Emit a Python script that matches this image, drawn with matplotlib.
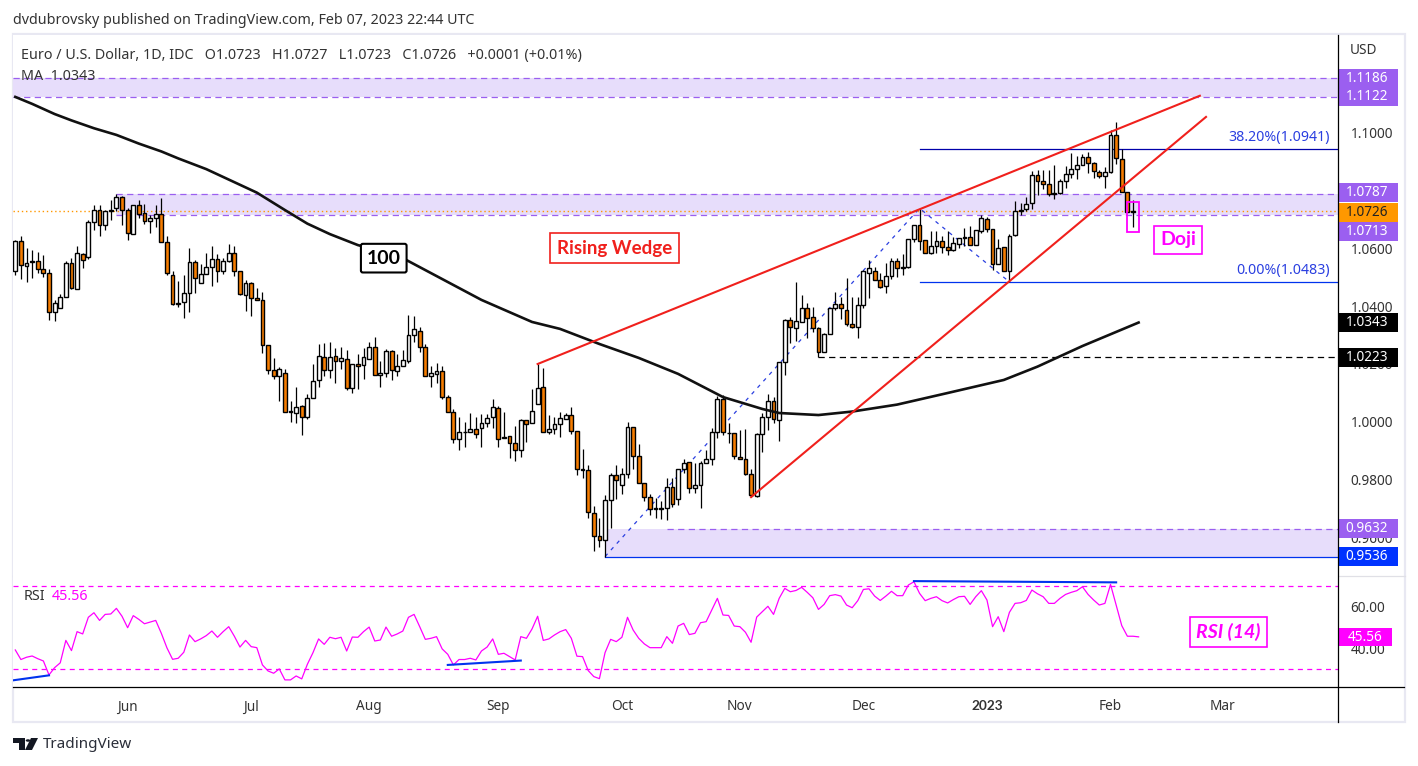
import numpy as np
import matplotlib
matplotlib.use("Agg")
import matplotlib.pyplot as plt
from matplotlib.lines import Line2D
from matplotlib.patches import Circle, Polygon, Rectangle

plt.rcParams['font.family'] = ['Noto Sans', 'DejaVu Sans']

W, H = 1418, 766

# daily candles
opens = [
    1.0520, 1.0623, 1.0537, 1.0551, 1.0554, 1.0527, 1.0513, 1.0378, 1.0392, 1.0430,
    1.0547, 1.0458, 1.0578, 1.0568, 1.0689, 1.0730, 1.0678, 1.0727, 1.0737, 1.0775,
    1.0730, 1.0647, 1.0747, 1.0720, 1.0692, 1.0702, 1.0716, 1.0620, 1.0506, 1.0406,
    1.0413, 1.0444, 1.0551, 1.0478, 1.0509, 1.0533, 1.0561, 1.0520, 1.0554, 1.0582,
    1.0520, 1.0437, 1.0478, 1.0427, 1.0420, 1.0265, 1.0178, 1.0158, 1.0168, 1.0034,
    1.0030, 1.0054, 1.0016, 1.0082, 1.0144, 1.0223, 1.0178, 1.0227, 1.0209, 1.0216,
    1.0116, 1.0199, 1.0195, 1.0216, 1.0258, 1.0161, 1.0168, 1.0244, 1.0175, 1.0192,
    1.0209, 1.0299, 1.0313, 1.0258, 1.0158, 1.0164, 1.0175, 1.0085, 1.0033, 0.9940,
    0.9965, 0.9965, 0.9975, 0.9978, 0.9996, 1.0016, 1.0047, 0.9947, 0.9951, 0.9927,
    0.9903, 1.0006, 0.9996, 1.0061, 1.0120, 0.9965, 0.9975, 0.9992, 1.0009, 1.0023,
    0.9968, 0.9837, 0.9834, 0.9685, 0.9606, 0.9592, 0.9730, 0.9816, 0.9782, 0.9820,
    0.9982, 0.9882, 0.9789, 0.9741, 0.9699, 0.9703, 0.9703, 0.9775, 0.9734, 0.9837,
    0.9861, 0.9772, 0.9782, 0.9858, 0.9871, 0.9965, 1.0078, 0.9961, 0.9961, 0.9878,
    0.9871, 0.9820, 0.9744, 0.9958, 1.0016, 1.0071, 1.0006, 1.0206, 1.0351, 1.0323,
    1.0344, 1.0392, 1.0361, 1.0323, 1.0240, 1.0302, 1.0392, 1.0406, 1.0385, 1.0337,
    1.0326, 1.0402, 1.0513, 1.0520, 1.0489, 1.0468, 1.0503, 1.0554, 1.0530, 1.0534,
    1.0630, 1.0678, 1.0627, 1.0582, 1.0606, 1.0623, 1.0603, 1.0592, 1.0613, 1.0634,
    1.0637, 1.0609, 1.0658, 1.0699, 1.0665, 1.0544, 1.0603, 1.0520, 1.0644, 1.0727,
    1.0733, 1.0754, 1.0851, 1.0830, 1.0820, 1.0785, 1.0789, 1.0830, 1.0854, 1.0871,
    1.0885, 1.0913, 1.0892, 1.0861, 1.0847, 1.0861, 1.0989, 1.0906, 1.0792, 1.0723,
]
highs = [
    1.0628, 1.0641, 1.0599, 1.0593, 1.0585, 1.0576, 1.0528, 1.0420, 1.0440, 1.0556,
    1.0565, 1.0607, 1.0582, 1.0696, 1.0748, 1.0747, 1.0731, 1.0766, 1.0785, 1.0779,
    1.0737, 1.0747, 1.0766, 1.0752, 1.0713, 1.0748, 1.0772, 1.0641, 1.0520, 1.0486,
    1.0506, 1.0599, 1.0559, 1.0545, 1.0582, 1.0607, 1.0579, 1.0565, 1.0613, 1.0606,
    1.0520, 1.0489, 1.0483, 1.0461, 1.0447, 1.0265, 1.0220, 1.0189, 1.0182, 1.0072,
    1.0120, 1.0058, 1.0096, 1.0199, 1.0269, 1.0271, 1.0275, 1.0254, 1.0259, 1.0247,
    1.0199, 1.0233, 1.0254, 1.0275, 1.0292, 1.0209, 1.0251, 1.0247, 1.0233, 1.0247,
    1.0369, 1.0366, 1.0326, 1.0268, 1.0194, 1.0202, 1.0193, 1.0092, 1.0044, 1.0016,
    0.9999, 1.0030, 1.0016, 1.0027, 1.0027, 1.0078, 1.0054, 1.0033, 0.9951, 0.9985,
    1.0009, 1.0006, 1.0113, 1.0200, 1.0185, 1.0023, 1.0016, 1.0033, 1.0030, 1.0051,
    0.9968, 0.9907, 0.9851, 0.9710, 0.9668, 0.9747, 0.9823, 0.9851, 0.9840, 0.9999,
    0.9982, 0.9923, 0.9789, 0.9751, 0.9737, 0.9726, 0.9806, 0.9806, 0.9837, 0.9871,
    0.9861, 0.9858, 0.9867, 0.9904, 0.9979, 1.0090, 1.0093, 0.9996, 0.9961, 0.9973,
    0.9976, 0.9837, 0.9961, 1.0030, 1.0096, 1.0087, 1.0206, 1.0354, 1.0363, 1.0482,
    1.0438, 1.0409, 1.0395, 1.0329, 1.0306, 1.0392, 1.0447, 1.0432, 1.0495, 1.0430,
    1.0430, 1.0524, 1.0559, 1.0536, 1.0513, 1.0547, 1.0565, 1.0565, 1.0578, 1.0630,
    1.0678, 1.0737, 1.0627, 1.0658, 1.0658, 1.0640, 1.0658, 1.0637, 1.0634, 1.0668,
    1.0675, 1.0661, 1.0713, 1.0708, 1.0665, 1.0630, 1.0603, 1.0647, 1.0761, 1.0754,
    1.0775, 1.0865, 1.0868, 1.0868, 1.0868, 1.0885, 1.0837, 1.0882, 1.0927, 1.0916,
    1.0923, 1.0930, 1.0898, 1.0868, 1.0878, 1.1006, 1.1033, 1.0940, 1.0794, 1.0764,
]
lows = [
    1.0507, 1.0493, 1.0484, 1.0498, 1.0515, 1.0501, 1.0353, 1.0350, 1.0392, 1.0430,
    1.0458, 1.0458, 1.0532, 1.0561, 1.0662, 1.0643, 1.0662, 1.0697, 1.0729, 1.0679,
    1.0629, 1.0647, 1.0702, 1.0684, 1.0653, 1.0673, 1.0620, 1.0508, 1.0403, 1.0398,
    1.0360, 1.0381, 1.0445, 1.0478, 1.0509, 1.0470, 1.0483, 1.0511, 1.0551, 1.0505,
    1.0437, 1.0384, 1.0366, 1.0420, 1.0237, 1.0164, 1.0147, 1.0074, 1.0034, 1.0001,
    0.9996, 0.9954, 1.0009, 1.0082, 1.0119, 1.0157, 1.0153, 1.0133, 1.0182, 1.0109,
    1.0099, 1.0115, 1.0147, 1.0216, 1.0161, 1.0122, 1.0156, 1.0144, 1.0160, 1.0192,
    1.0202, 1.0277, 1.0240, 1.0158, 1.0122, 1.0133, 1.0081, 1.0033, 0.9926, 0.9903,
    0.9913, 0.9965, 0.9946, 0.9915, 0.9984, 0.9978, 0.9913, 0.9944, 0.9877, 0.9865,
    0.9878, 0.9930, 0.9996, 1.0061, 0.9965, 0.9958, 0.9958, 0.9947, 1.0009, 0.9958,
    0.9816, 0.9808, 0.9668, 0.9554, 0.9570, 0.9536, 0.9634, 0.9735, 0.9752, 0.9806,
    0.9837, 0.9789, 0.9726, 0.9680, 0.9668, 0.9665, 0.9662, 0.9706, 0.9714, 0.9823,
    0.9754, 0.9754, 0.9703, 0.9858, 0.9851, 0.9944, 0.9955, 0.9927, 0.9873, 0.9871,
    0.9816, 0.9741, 0.9741, 0.9898, 0.9973, 0.9996, 0.9935, 1.0162, 1.0274, 1.0279,
    1.0344, 1.0289, 1.0312, 1.0223, 1.0240, 1.0302, 1.0386, 1.0355, 1.0332, 1.0323,
    1.0291, 1.0394, 1.0426, 1.0489, 1.0461, 1.0444, 1.0492, 1.0500, 1.0507, 1.0530,
    1.0620, 1.0593, 1.0582, 1.0578, 1.0582, 1.0582, 1.0575, 1.0589, 1.0599, 1.0606,
    1.0609, 1.0609, 1.0651, 1.0654, 1.0523, 1.0544, 1.0520, 1.0483, 1.0640, 1.0713,
    1.0727, 1.0733, 1.0782, 1.0802, 1.0778, 1.0768, 1.0785, 1.0806, 1.0840, 1.0837,
    1.0885, 1.0858, 1.0840, 1.0840, 1.0806, 1.0858, 1.0889, 1.0792, 1.0723, 1.0672,
]
closes = [
    1.0623, 1.0540, 1.0550, 1.0554, 1.0527, 1.0513, 1.0378, 1.0409, 1.0430, 1.0547,
    1.0461, 1.0582, 1.0558, 1.0689, 1.0730, 1.0678, 1.0727, 1.0730, 1.0775, 1.0730,
    1.0651, 1.0747, 1.0716, 1.0692, 1.0702, 1.0716, 1.0620, 1.0513, 1.0406, 1.0409,
    1.0444, 1.0551, 1.0496, 1.0509, 1.0533, 1.0561, 1.0520, 1.0554, 1.0582, 1.0520,
    1.0440, 1.0478, 1.0427, 1.0420, 1.0265, 1.0178, 1.0158, 1.0182, 1.0034, 1.0037,
    1.0051, 1.0016, 1.0082, 1.0141, 1.0227, 1.0178, 1.0223, 1.0209, 1.0220, 1.0116,
    1.0199, 1.0192, 1.0223, 1.0258, 1.0161, 1.0168, 1.0244, 1.0178, 1.0192, 1.0213,
    1.0299, 1.0320, 1.0258, 1.0158, 1.0168, 1.0175, 1.0085, 1.0033, 0.9940, 0.9965,
    0.9965, 0.9975, 0.9958, 0.9996, 1.0013, 1.0051, 0.9940, 0.9944, 0.9927, 0.9903,
    1.0006, 0.9992, 1.0037, 1.0116, 0.9965, 0.9975, 0.9992, 1.0013, 1.0023, 0.9968,
    0.9837, 0.9834, 0.9689, 0.9606, 0.9592, 0.9730, 0.9816, 0.9799, 0.9820, 0.9982,
    0.9882, 0.9789, 0.9741, 0.9699, 0.9703, 0.9699, 0.9775, 0.9716, 0.9837, 0.9858,
    0.9772, 0.9782, 0.9858, 0.9871, 0.9965, 1.0078, 0.9965, 0.9961, 0.9882, 0.9871,
    0.9820, 0.9747, 0.9958, 1.0016, 1.0071, 1.0009, 1.0206, 1.0351, 1.0326, 1.0347,
    1.0392, 1.0358, 1.0323, 1.0240, 1.0302, 1.0392, 1.0406, 1.0392, 1.0337, 1.0326,
    1.0402, 1.0520, 1.0530, 1.0489, 1.0464, 1.0502, 1.0554, 1.0530, 1.0534, 1.0630,
    1.0678, 1.0623, 1.0582, 1.0606, 1.0623, 1.0603, 1.0592, 1.0616, 1.0634, 1.0637,
    1.0609, 1.0661, 1.0702, 1.0665, 1.0544, 1.0599, 1.0520, 1.0640, 1.0727, 1.0730,
    1.0751, 1.0851, 1.0830, 1.0820, 1.0785, 1.0789, 1.0830, 1.0854, 1.0871, 1.0885,
    1.0913, 1.0892, 1.0865, 1.0847, 1.0861, 1.0989, 1.0909, 1.0792, 1.0723, 1.0726,
]

# 100 day moving average, sampled along the curve
ma_days = [0, 3, 7, 10, 14, 18, 22, 26, 29, 34, 37, 43, 48, 52, 56, 61, 65, 69, 76, 83, 92, 97,
           104, 111, 118, 126, 133, 136, 143, 149, 157, 166, 176, 182, 190, 200]
ma_vals = [1.1121, 1.1097, 1.1062, 1.1040, 1.1013, 1.0990, 1.0960, 1.0933, 1.0909, 1.0872, 1.0845,
           1.0791, 1.0731, 1.0684, 1.0648, 1.0610, 1.0590, 1.0565, 1.0493, 1.0421, 1.0345, 1.0321,
           1.0269, 1.0221, 1.0166, 1.0086, 1.0045, 1.0031, 1.0024, 1.0036, 1.0060, 1.0100, 1.0145,
           1.0191, 1.0262, 1.0343]

rsi = [
    39.3, 34.7, 35.8, 36.4, 35.1, 34.0, 27.3, 30.8, 33.1, 43.9, 39.0, 48.1, 47.0, 55.0, 57.2, 53.5,
    56.4, 56.6, 59.3, 55.5, 50.0, 55.8, 54.0, 51.9, 52.7, 53.5, 47.3, 40.3, 34.8, 35.3, 38.2, 46.5,
    43.3, 44.6, 46.2, 48.4, 45.4, 48.1, 50.5, 45.9, 40.7, 43.9, 40.9, 40.4, 32.1, 29.2, 28.1, 30.2,
    24.9, 24.9, 26.8, 25.4, 32.4, 38.0, 44.6, 42.0, 45.4, 44.7, 45.4, 38.8, 45.5, 45.4, 48.1, 50.3,
    43.6, 44.1, 50.3, 45.9, 47.0, 48.4, 55.0, 56.4, 50.5, 44.4, 44.9, 45.7, 39.8, 37.2, 32.1, 34.7,
    34.7, 35.3, 34.5, 38.8, 40.7, 44.6, 37.2, 37.7, 36.1, 34.5, 45.7, 44.9, 49.4, 55.5, 43.9, 44.6,
    46.5, 48.1, 49.1, 44.9, 36.3, 36.1, 29.4, 26.5, 25.5, 38.0, 44.4, 43.3, 45.4, 55.0, 48.9, 44.9,
    42.2, 40.4, 40.4, 40.4, 45.7, 42.5, 50.8, 52.1, 46.7, 47.3, 52.4, 52.9, 58.5, 64.1, 56.1, 55.9,
    50.8, 50.5, 47.8, 43.0, 55.1, 57.7, 60.3, 56.4, 64.1, 68.9, 67.3, 67.9, 69.4, 67.0, 64.4, 58.8,
    61.2, 65.4, 65.9, 65.2, 60.9, 59.6, 63.0, 68.4, 68.7, 65.2, 63.1, 65.2, 67.5, 65.4, 65.4, 70.5,
    72.1, 66.5, 63.0, 64.1, 64.9, 63.0, 61.9, 63.5, 64.9, 65.1, 61.2, 64.9, 67.8, 63.3, 50.5, 55.3,
    48.1, 57.4, 61.7, 62.0, 63.1, 68.1, 66.3, 64.9, 61.7, 61.7, 64.1, 66.0, 67.0, 67.8, 69.7, 66.0,
    63.3, 60.9, 61.7, 70.8, 60.9, 51.0, 45.9, 45.9, 45.6,
]

month_days = [20, 42, 63, 86, 108, 129, 151, 173, 195, 215]
month_labels = ['Jun', 'Jul', 'Aug', 'Sep', 'Oct', 'Nov', 'Dec', '2023', 'Feb', 'Mar']
price_ticks = [1.10, 1.06, 1.04, 1.02, 1.00, 0.98, 0.96]

PURPLE = '#9b5ff0'
ZONE = '#e7ddfb'
MAGENTA = '#ff00ff'
ORANGE = '#f57c00'
BLUE = '#0033ee'
RED = '#f0201c'
NOTE_FONT = ['Lato', 'DejaVu Sans']


def fx(px):
    return px / W


def fy(py):
    return 1 - py / H


def axes_box(left, top, right, bottom):
    return [fx(left), fy(bottom), (right - left) / W, (bottom - top) / H]


fig = plt.figure(figsize=(W / 100, H / 100), dpi=100, facecolor='white')
ax = fig.add_axes(axes_box(13, 35, 1338, 575))
rax = fig.add_axes(axes_box(13, 575, 1338, 687), sharex=ax)

ax.set_xlim(-0.41, 235.5)
ax.set_ylim(0.94724, 1.13345)
rax.set_ylim(21.49, 75.34)

for a in (ax, rax):
    for s in a.spines.values():
        s.set_visible(False)
    a.yaxis.tick_right()
    a.tick_params(axis='both', length=0, labelsize=9.8, labelcolor='#333333')

ax.set_yticks(price_ticks)
ax.set_yticklabels([f'{t:.4f}' for t in price_ticks])
ax.tick_params(axis='y', pad=9)
ax.tick_params(axis='x', labelbottom=False)
rax.set_yticks([60, 40])
rax.set_yticklabels(['60.00', '40.00'])
rax.tick_params(axis='y', pad=9)
rax.set_xticks(month_days)
rax.set_xticklabels(month_labels)
rax.tick_params(axis='x', pad=9)
for lab in rax.get_xticklabels():
    if lab.get_text() == '2023':
        lab.set_fontweight('bold')
        lab.set_family(NOTE_FONT)

# zones and levels
end = ax.get_xlim()[1]
ax.axhspan(1.1122, 1.1186, color=ZONE, lw=0, zorder=1)
ax.fill_between([18, end], 1.0713, 1.0787, color=ZONE, lw=0, zorder=1)
ax.fill_between([105, end], 0.9536, 0.9632, color=ZONE, lw=0, zorder=1)
dash = (0, (5, 3.5))
for lvl in (1.1186, 1.1122):
    ax.axhline(lvl, color=PURPLE, lw=0.9, ls=dash, zorder=1.5)
ax.plot([18, end], [1.0787, 1.0787], color=PURPLE, lw=0.9, ls=dash, zorder=1.5)
ax.plot([18, end], [1.0713, 1.0713], color=PURPLE, lw=0.9, ls=dash, zorder=1.5)
ax.plot([116, end], [0.9632, 0.9632], color=PURPLE, lw=0.9, ls=dash, zorder=1.5)
ax.plot([105, end], [0.9536, 0.9536], color=BLUE, lw=0.9, zorder=1.5)
ax.plot([143, end], [1.0223, 1.0223], color='black', lw=0.9, ls=dash, zorder=1.5)
ax.axhline(1.0726, color='#ff9800', lw=1.0, ls=(0, (1, 2)), zorder=1.6)

# fibonacci levels
ax.plot([161, end], [1.0941, 1.0941], color='#0000aa', lw=0.9, zorder=1.5)
ax.plot([161, end], [1.0483, 1.0483], color=BLUE, lw=0.9, zorder=1.5)
ax.text(234, 1.0955, '38.20%(1.0941)', color='#2a3fe0', fontsize=10.2, ha='right', va='bottom')
ax.text(234, 1.0497, '0.00%(1.0483)', color='#2a3fe0', fontsize=10.2, ha='right', va='bottom')
ax.plot([105, 161, 177], [0.9536, 1.0737, 1.0483], color='#2a3fe0', lw=0.9, ls=(0, (3, 4)), zorder=2.5)

# candles
days = np.arange(len(opens))
o = np.array(opens)
c = np.array(closes)
ax.vlines(days, lows, highs, color='black', lw=0.9, zorder=3)
body_colors = [ORANGE if cl < op else 'white' for op, cl in zip(o, c)]
ax.bar(days, np.abs(c - o), bottom=np.minimum(o, c), width=0.68, color=body_colors,
       edgecolor='black', linewidth=1.0, zorder=3.5)

# moving average and wedge
ax.plot(ma_days, ma_vals, color='#111111', lw=1.9, zorder=4, solid_joinstyle='round')
ax.plot([93, 210.9], [1.0200, 1.1125], color=RED, lw=1.5, zorder=5)
ax.plot([131, 212], [0.9741, 1.1052], color=RED, lw=1.5, zorder=5)

# annotations
ax.text(106.7, 1.0600, 'Rising Wedge', color=RED, family=NOTE_FONT, fontsize=13.5, fontweight='bold',
        ha='center', va='center', zorder=6,
        bbox=dict(boxstyle='square,pad=0.35', fc='white', ec=RED, lw=1.2))
ax.text(65.6, 1.0565, '100', color='black', family=NOTE_FONT, fontsize=14, fontweight='bold',
        ha='center', va='center', zorder=6,
        bbox=dict(boxstyle='round,pad=0.3,rounding_size=0.1', fc='white', ec='black', lw=1.5))
ax.text(207, 1.0628, 'Doji', color=MAGENTA, family=NOTE_FONT, fontsize=14, fontweight='bold',
        ha='center', va='center', zorder=6,
        bbox=dict(boxstyle='square,pad=0.3', fc='white', ec=MAGENTA, lw=1.2))
ax.add_patch(Rectangle((197.9, 1.0655), 2.1, 0.0104, fc='none', ec=MAGENTA, lw=1.3, zorder=6))

# price tags on the scale
tag_w = 60 / 1325
tx = ax.get_yaxis_transform()
tags = [
    ('1.1186', 1.1186, PURPLE, 'white'),
    ('1.1122', 1.1122, PURPLE, 'white'),
    ('1.0787', 1.0790, PURPLE, 'white'),
    ('1.0726', 1.0722, '#ff9800', '#222222'),
    ('1.0713', 1.0657, PURPLE, 'white'),
    ('1.0343', 1.0343, 'black', 'white'),
    ('1.0223', 1.0223, 'black', 'white'),
    ('0.9632', 0.9632, PURPLE, 'white'),
    ('0.9536', 0.9536, '#0033ff', 'white'),
]
tag_h = 0.0065
for label, pos, bg, fg in tags:
    ax.add_patch(Rectangle((1.0, pos - tag_h / 2), tag_w, tag_h, transform=tx, fc=bg, ec='none',
                           clip_on=False, zorder=8))
    ax.text(1.0 + tag_w / 2 - 0.001, pos, label, transform=tx, color=fg, fontsize=9.8, ha='center',
            va='center', clip_on=False, zorder=9)

# RSI pane
rsi_days = np.arange(len(rsi))
rax.plot(rsi_days, rsi, color=MAGENTA, lw=0.9, zorder=3)
rax.axhline(70, color=MAGENTA, lw=0.9, ls=(0, (4, 3.5)), zorder=2)
rax.axhline(30, color=MAGENTA, lw=0.9, ls=(0, (4, 3.5)), zorder=2)
rax.plot([-0.4, 6], [24.7, 27.1], color=BLUE, lw=1.5, zorder=4)
rax.plot([77, 90], [32.1, 34.2], color=BLUE, lw=1.5, zorder=4)
rax.plot([160, 196], [72.4, 71.8], color=BLUE, lw=1.5, zorder=4, clip_on=False)
rax.text(216, 47.9, 'RSI (14)', color=MAGENTA, family=NOTE_FONT, fontsize=14, fontstyle='italic', fontweight='bold',
         ha='center', va='center', zorder=6, bbox=dict(boxstyle='square,pad=0.3', fc='white', ec=MAGENTA, lw=1.2))
rtx = rax.get_yaxis_transform()
rax.add_patch(Rectangle((1.0, 41.0), 54 / 1325, 8.8, transform=rtx, fc=MAGENTA, ec='none', clip_on=False, zorder=8))
rax.text(1.0 + 27 / 1325, 45.4, '45.56', transform=rtx, color='white', fontsize=9.8, ha='center', va='center',
         clip_on=False, zorder=9)

# frame and separators
fig.add_artist(Rectangle((fx(13), fy(722)), (1405 - 13) / W, (722 - 34) / H, transform=fig.transFigure,
                         fc='none', ec='#e8e8f2', lw=1.6, zorder=0))
fig.add_artist(Line2D([fx(13), fx(1405)], [fy(575.5), fy(575.5)], color='#e0e0e6', lw=0.9, zorder=0))
fig.add_artist(Line2D([fx(13), fx(1404)], [fy(687), fy(687)], color='black', lw=0.9))
fig.add_artist(Line2D([fx(1338), fx(1338)], [fy(35), fy(722)], color='black', lw=0.9))

# header texts
fig.text(fx(13), fy(21), 'dvdubrovsky published on TradingView.com, Feb 07, 2023 22:44 UTC',
         fontsize=10.3, color='#333333', va='center')
fig.text(fx(21), fy(56), 'Euro / U.S. Dollar, 1D, IDC   O1.0723   H1.0727   L1.0723   C1.0726   +0.0001 (+0.01%)',
         fontsize=10.3, color='#333333', va='center', zorder=10)
fig.text(fx(21), fy(76), 'MA  1.0343', fontsize=10.3, color='#333333', va='center', zorder=10)
fig.text(fx(24), fy(596), 'RSI', fontsize=10.3, color='#333333', va='center', zorder=10)
fig.text(fx(52), fy(596), '45.56', fontsize=10.3, color=MAGENTA, va='center', zorder=10)
fig.text(fx(1350), fy(51), 'USD', fontsize=9.8, color='#333333', va='center')

# TradingView logo
LOGO = '#131722'
tf = fig.transFigure
fig.add_artist(Polygon([(fx(13), fy(738)), (fx(25), fy(738)), (fx(25), fy(750)), (fx(19), fy(750)),
                        (fx(19), fy(743)), (fx(13), fy(743))], closed=True, transform=tf, fc=LOGO, ec='none'))
fig.add_artist(Polygon([(fx(31), fy(738)), (fx(38), fy(738)), (fx(32), fy(750)), (fx(25), fy(750))],
                       closed=True, transform=tf, fc=LOGO, ec='none'))
fig.add_artist(Circle((fx(28), fy(740.5)), 2.3 / W, transform=tf, fc=LOGO, ec='none'))
fig.text(fx(43), fy(745), 'TradingView', fontsize=11, color='#2a2e39', va='center')

fig.savefig('out.png', dpi=100)
